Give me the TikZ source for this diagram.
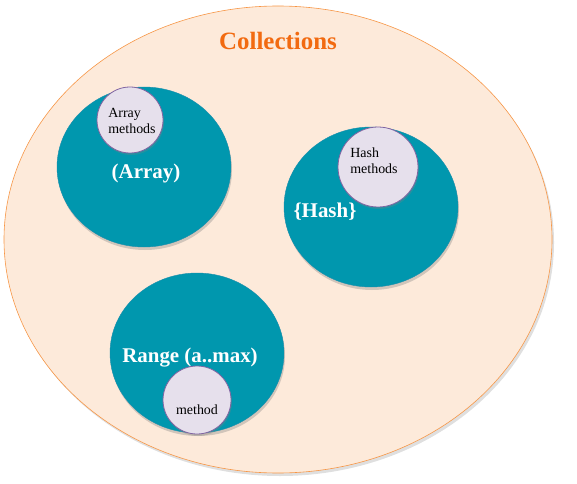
\documentclass[tikz,border=0pt]{standalone}
\usepackage{fontspec}
\setmainfont{Liberation Serif}
\usetikzlibrary{shadows}
\definecolor{peach}{HTML}{FDEADA}
\definecolor{rim}{HTML}{F79646}
\definecolor{teal}{HTML}{0097AE}
\definecolor{lilac}{HTML}{E6E0EC}
\definecolor{plum}{HTML}{8064A2}
\definecolor{title}{HTML}{F26A10}
\tikzset{
  bag/.style={fill=teal,draw=teal!80!plum,drop shadow={opacity=0.35,shadow xshift=1bp,shadow yshift=-3bp}},
  meth/.style={fill=lilac,draw=plum,thick,drop shadow={opacity=0.3,shadow xshift=1bp,shadow yshift=-2bp}},
  big/.style={white,font=\bfseries\fontsize{21}{23}\selectfont},
  small/.style={align=left,font=\fontsize{14}{16}\selectfont}
}
\begin{document}
\begin{tikzpicture}[x=1bp,y=-1bp]
      \useasboundingbox (0,0) rectangle (577,484);
      \draw[fill=peach,draw=rim,semithick,drop shadow={opacity=0.25,shadow xshift=2bp,shadow yshift=-3bp}] (278,239.5) ellipse (274 and 233.5);
      \node[title,font=\bfseries\fontsize{25}{28}\selectfont] (coll) at (278,41) {Collections};
      % array
      \draw[bag] (144,167) ellipse (87 and 80);
      \draw[meth] (130,120) circle (33);
      \node[small] (arrm) at (132,121) {Array\\methods};
      \node[big] (arr) at (146,173) {(Array)};
      % hash
      \draw[bag] (371,207) ellipse (87 and 80);
      \draw[meth] (378,167) circle (40);
      \node[small] (hashm) at (374,161) {Hash\\methods};
      \node[big] (hash) at (325,212) {\{Hash\}};
      % range
      \draw[bag] (197,353) ellipse (87 and 80);
      \node[big] (rng) at (190,358) {Range (a..max)};
      \draw[meth] (197,400) circle (34);
      \node[small] (rngm) at (197,410) {method};
\end{tikzpicture}
\end{document}
